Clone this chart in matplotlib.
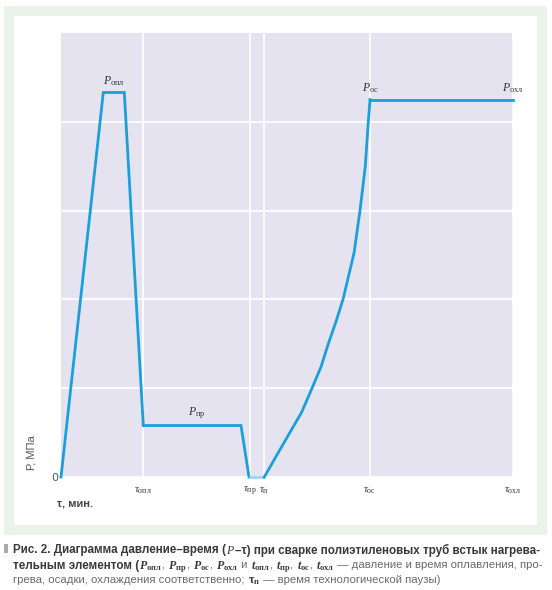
import matplotlib
matplotlib.use("Agg")
import matplotlib.pyplot as plt
from matplotlib.patches import Rectangle

plt.rcParams['mathtext.fontset'] = 'custom'
plt.rcParams['mathtext.rm'] = 'Liberation Serif'
plt.rcParams['mathtext.it'] = 'Liberation Serif:italic'
plt.rcParams['mathtext.bf'] = 'Liberation Serif:bold'
plt.rcParams['mathtext.bfit'] = 'Liberation Serif:italic:bold'

# ---- data (time in arbitrary units, pressure in grid units) ----
melt_t = [0, 42.3, 63.3, 82.3]
melt_p = [0, 4.33, 4.33, 0.58]
heat_t = [82.3, 180, 188]
heat_p = [0.58, 0.58, 0.0]
pause_t = [188, 203.3]
pause_p = [0.0, 0.0]
upset_t = [203.3, 215, 228.3, 240.7, 251, 260, 267.3, 275, 282, 293, 299, 304.3, 307.3, 308.3, 309]
upset_p = [0.0, 0.23, 0.49, 0.73, 1.0, 1.24, 1.5, 1.75, 2.0, 2.52, 3.0, 3.5, 4.0, 4.14, 4.25]
cool_t = [309, 452]
cool_p = [4.25, 4.25]

tick_pos = [82.3, 189, 203, 309, 452]
tick_lbl = [r'$\tau_{\mathrm{опл}}$', r'$\tau_{\mathrm{пр}}$', r'$\tau_{\mathrm{п}}$',
            r'$\tau_{\mathrm{ос}}$', r'$\tau_{\mathrm{охл}}$']
point_lbl = [(52.8, 4.33, r'$P_{\mathrm{опл}}$'), (136, 0.58, r'$P_{\mathrm{пр}}$'),
             (309, 4.25, r'$P_{\mathrm{ос}}$'), (452, 4.25, r'$P_{\mathrm{охл}}$')]

W, H = 552, 590
fig = plt.figure(figsize=(W/100, H/100), dpi=100)
fig.patch.set_facecolor('white')

def frac_rect(x0, y0, x1, y1, color):
    fig.add_artist(Rectangle((x0/W, 1-y1/H), (x1-x0)/W, (y1-y0)/H,
                             transform=fig.transFigure, facecolor=color,
                             edgecolor='none', zorder=0))

frac_rect(4, 6, 547, 535, '#eaf3e9')
frac_rect(14, 16, 537, 525, 'white')

ax = fig.add_axes([61/W, 1-477/H, 452/W, 444/H])
ax.set_facecolor('#e6e3f1')
for s in ax.spines.values():
    s.set_visible(False)
ax.set_xlim(0, 452)
ax.set_ylim(0, 5)
ax.set_xticks(tick_pos)
ax.set_xticklabels(tick_lbl, fontsize=8, color='#333333')
ax.set_yticks([0, 1, 2, 3, 4])
ax.set_yticklabels(['0', '', '', '', ''], fontsize=8, color='#555555')
ax.tick_params(length=0, pad=2)
ax.tick_params(axis='x', pad=6)
ax.grid(True, color='white', lw=1.2)
ax.set_axisbelow(True)

lc = '#1b9fdb'
ax.plot(melt_t, melt_p, color=lc, lw=2, solid_joinstyle='miter', clip_on=False)
ax.plot(heat_t, heat_p, color=lc, lw=2, solid_joinstyle='miter', clip_on=False)
ax.plot(pause_t, pause_p, color='#9fd8f0', lw=2.2, clip_on=False, solid_capstyle='butt')
ax.plot(upset_t, upset_p, color=lc, lw=2, clip_on=False, solid_joinstyle='round')
ax.plot(cool_t, cool_p, color=lc, lw=2, solid_joinstyle='miter', clip_on=False)

for x, y, s in point_lbl:
    ax.annotate(s, (x, y), xytext=(0, 3), textcoords='offset points',
                ha='center', va='bottom', fontsize=8.5, color='#333333',
                annotation_clip=False)

fig.text(32/W, 1-453/H, 'Р, МПа', rotation=90, ha='center', va='center',
         fontsize=8, color='#555555', family='Liberation Sans')
fig.text(57/W, 1-503/H, 'τ, мин.', ha='left', va='center', fontsize=8,
         color='#444444', family='Liberation Sans', weight='bold')

# ---- caption ----
frac_rect(4, 544, 8, 553, '#aaaaaa')
fig.canvas.draw()
renderer = fig.canvas.get_renderer()

dark = dict(family='Liberation Sans', color='#3a3a3a', fontsize=8.35, weight='bold')
light = dict(family='Liberation Sans', color='#6a6a6a', fontsize=8.2)
mth = dict(color='#3a3a3a', fontsize=8.6)

lines = [
    (549, [('Рис. 2. Диаграмма давление–время (', dark), (r'$P$', mth), ('–τ) при сварке полиэтиленовых труб встык нагрева-', dark)]),
    (564, [('тельным элементом (', dark),
           (r'$\mathbfit{P}_{\mathbf{опл}}$', mth), (', ', light),
           (r'$\mathbfit{P}_{\mathbf{пр}}$', mth), (', ', light),
           (r'$\mathbfit{P}_{\mathbf{ос}}$', mth), (', ', light),
           (r'$\mathbfit{P}_{\mathbf{охл}}$', mth), (' и ', light),
           (r'$\mathbfit{t}_{\mathbf{опл}}$', mth), (', ', light),
           (r'$\mathbfit{t}_{\mathbf{пр}}$', mth), (', ', light),
           (r'$\mathbfit{t}_{\mathbf{ос}}$', mth), (', ', light),
           (r'$\mathbfit{t}_{\mathbf{охл}}$', mth),
           (' — давление и время оплавления, про-', light)]),
    (579, [('грева, осадки, охлаждения соответственно; ', light),
           (r'$\mathbf{\tau}_{\mathbf{п}}$', mth),
           (' — время технологической паузы)', light)]),
]
for ypix, segs in lines:
    x = 13
    for s, props in segs:
        t = fig.text(x/W, 1-ypix/H, s, ha='left', va='center_baseline', **props)
        bb = t.get_window_extent(renderer)
        x += bb.width

fig.savefig('out.png', dpi=100)
